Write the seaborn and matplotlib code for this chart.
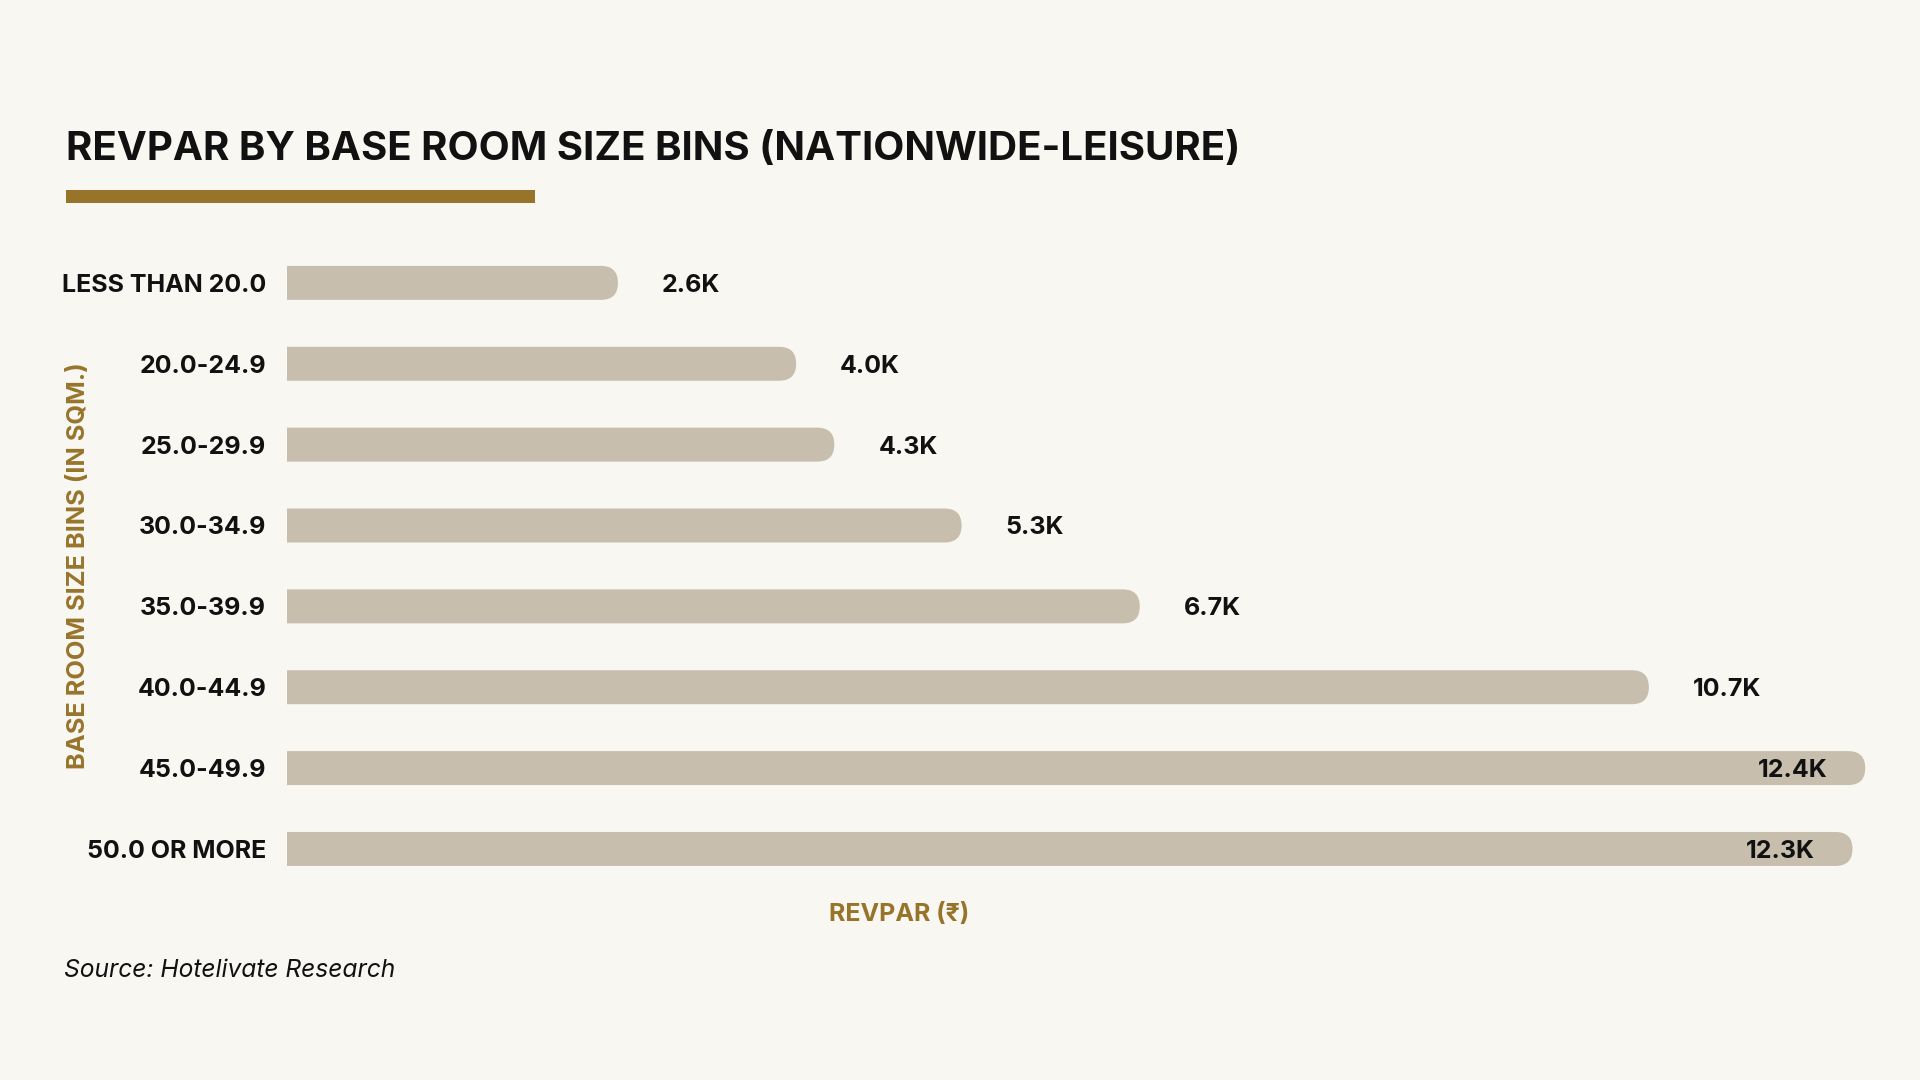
import matplotlib
matplotlib.use("Agg")
import matplotlib.pyplot as plt
import seaborn as sns
import pandas as pd
from matplotlib.patches import FancyBboxPatch, Rectangle

# Data (RevPAR in thousands of rupees)
bins = ["LESS THAN 20.0", "20.0-24.9", "25.0-29.9", "30.0-34.9",
        "35.0-39.9", "40.0-44.9", "45.0-49.9", "50.0 OR MORE"]
revpar_k = [2.6, 4.0, 4.3, 5.3, 6.7, 10.7, 12.4, 12.3]

BG = "#F8F7F2"
BAR = "#C8BEAD"
GOLD = "#98742B"
INK = "#111111"

sns.set_theme(style="white")
plt.rcParams["font.family"] = ["Inter", "DejaVu Sans"]

df = pd.DataFrame({"bin": bins, "revpar": revpar_k})

fig = plt.figure(figsize=(19.2, 10.8), dpi=100, facecolor=BG)
ax = fig.add_axes([0.1495, 0.1765, 0.8286, 0.599])
ax.set_facecolor(BG)

sns.barplot(data=df, x="revpar", y="bin", orient="h", color=BAR,
            width=0.42, saturation=1, ax=ax)
ax.set_xlim(0, 12.5)
ax.set_ylim(7.5, -0.5)

# swap rectangles for bars with a rounded right end
fig.canvas.draw()
bb = ax.get_window_extent()
px = bb.width / 12.5
py = bb.height / 8.0
for p in list(ax.patches):
    x, y, w, h = p.get_x(), p.get_y(), p.get_width(), p.get_height()
    p.remove()
    r = (h * py / 2) / px
    ax.add_patch(FancyBboxPatch((x - r, y), w + r, h,
                                boxstyle=f"round,pad=0,rounding_size={r}",
                                mutation_aspect=px / py,
                                facecolor=BAR, edgecolor="none"))

# value labels
for i, v in enumerate(revpar_k):
    lab = f"{v:.1f}K"
    if v > 12:
        ax.text(v - 38 / px, i, lab, ha="right", va="center_baseline",
                fontsize=18, fontweight="bold", color=INK)
    else:
        ax.text(v + 44 / px, i, lab, ha="left", va="center_baseline",
                fontsize=18, fontweight="bold", color=INK)

for s in ax.spines.values():
    s.set_visible(False)
ax.set_xticks([])
ax.tick_params(axis="y", length=0, pad=15)
for t in ax.get_yticklabels():
    t.set_fontsize(18)
    t.set_fontweight("bold")
    t.set_color(INK)

ax.set_ylabel("BASE ROOM SIZE BINS (IN SQM.)", fontsize=18.3,
              fontweight="bold", color=GOLD)
ax.yaxis.set_label_coords(-0.1236, 0.5)
ax.set_xlabel("REVPAR (₹)", fontsize=18, fontweight="bold", color=GOLD)
ax.xaxis.set_label_coords(0.385, -0.0215)

# title, underline, source
fig.text(0.0344, 0.862, "REVPAR BY BASE ROOM SIZE BINS (NATIONWIDE-LEISURE)",
         fontsize=29, fontweight="bold", color=INK, va="center", ha="left")
fig.patches.append(Rectangle((0.0344, 0.812), 0.2443, 0.012,
                             transform=fig.transFigure, facecolor=GOLD,
                             edgecolor="none"))
fig.text(0.0333, 0.1012, "Source: Hotelivate Research", fontsize=17.7,
         style="italic", color=INK, va="center", ha="left")

fig.savefig("out.png", dpi=100, facecolor=BG)
